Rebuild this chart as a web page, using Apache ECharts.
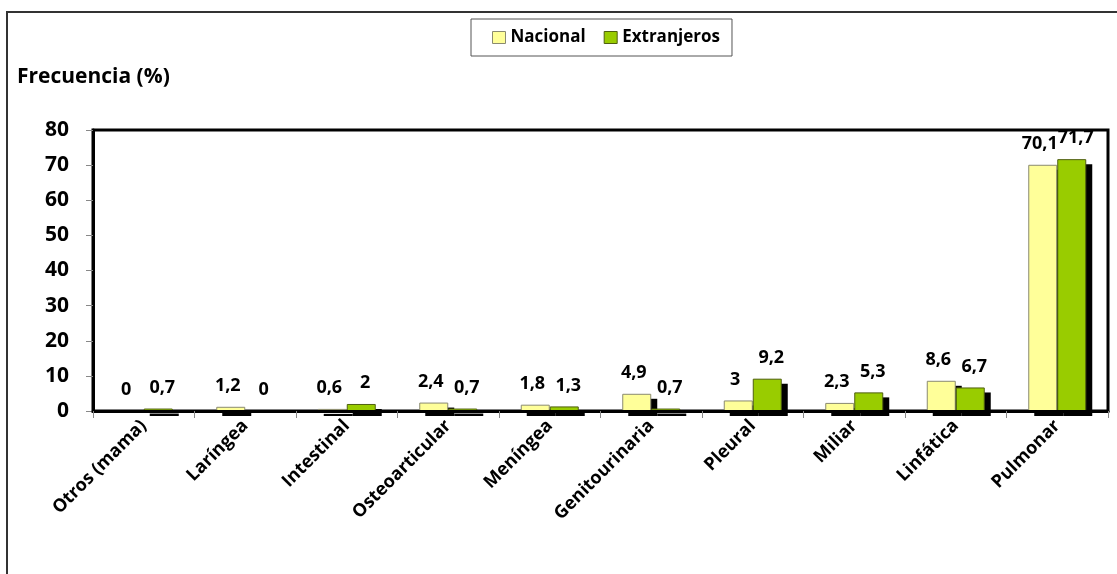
<!DOCTYPE html>
<html>
<head>
<meta charset="utf-8">
<script src="https://cdn.jsdelivr.net/npm/echarts@6/dist/echarts.min.js"></script>
<style>
  html, body { margin: 0; padding: 0; background: #fff; }
  #chart { width: 1117px; height: 574px; }
</style>
</head>
<body>
<div id="chart"></div>
<script>
// Localizaciones de la tuberculosis
const categories = ['Otros (mama)', 'Laríngea', 'Intestinal', 'Osteoarticular', 'Meníngea',
  'Genitourinaria', 'Pleural', 'Miliar', 'Linfática', 'Pulmonar'];
const nacional = [0, 1.2, 0.6, 2.4, 1.8, 4.9, 3, 2.3, 8.6, 70.1];
const extranjeros = [0.7, 0, 2, 0.7, 1.3, 0.7, 9.2, 5.3, 6.7, 71.7];
const yTicks = { min: 0, max: 80, interval: 10 };

const FONT = '"Open Sans", "Noto Sans", sans-serif';
const BAR_W = 29;
const SHADOW_DX = 6;
const SHADOW_DY = 5;

function barLabel(dx) {
  return {
    show: true,
    position: 'top',
    distance: 12,
    offset: [dx, 0],
    fontFamily: FONT,
    fontWeight: 'bold',
    fontSize: 18,
    color: '#000',
    formatter: p => String(p.value).replace('.', ',')
  };
}

function barSeries(name, data, color, border, labelDx) {
  return {
    name: name,
    type: 'bar',
    data: data,
    barWidth: BAR_W,
    barGap: '0%',
    z: 3,
    itemStyle: { color: color, borderColor: border, borderWidth: 1 },
    label: barLabel(labelDx),
    emphasis: { disabled: true }
  };
}

// Solid black drop shadow behind each bar, placed with the axis scales.
// side = -1 for the left bar of a pair, 0 for the right bar.
function shadowSeries(data, side) {
  return {
    type: 'custom',
    z: 2,
    silent: true,
    clip: false,
    data: data.map((v, i) => [i, v]),
    encode: { x: 0, y: 1 },
    renderItem: function (params, api) {
      const val = api.value(1);
      if (!val) return null;
      const base = api.coord([api.value(0), 0]);
      const top = api.coord([api.value(0), val]);
      const x = base[0] + side * BAR_W + SHADOW_DX;
      return {
        type: 'rect',
        shape: { x: x, y: top[1] + SHADOW_DY, width: BAR_W, height: base[1] - top[1] },
        style: { fill: '#000' }
      };
    }
  };
}

const chart = echarts.init(document.getElementById('chart'), null, { renderer: 'canvas' });
chart.setOption({
  animation: false,
  backgroundColor: '#fff',
  title: {
    text: 'Frecuencia (%)',
    left: 12,
    top: 62,
    textStyle: { fontFamily: FONT, fontWeight: 'bold', fontSize: 21, color: '#000' }
  },
  legend: {
    data: ['Nacional', 'Extranjeros'],
    left: 471,
    top: 19,
    padding: [10, 12, 10, 21],
    itemGap: 18,
    itemWidth: 13,
    itemHeight: 12,
    icon: 'rect',
    borderColor: '#555',
    borderWidth: 1,
    itemStyle: { borderWidth: 1 },
    textStyle: { fontFamily: FONT, fontWeight: 'bold', fontSize: 17, color: '#000', padding: [0, 0, 0, 0] }
  },
  graphic: [{
    type: 'rect',
    z: -10,
    silent: true,
    shape: { x: 7, y: 12, width: 1300, height: 800 },
    style: { fill: 'none', stroke: '#333', lineWidth: 2 }
  }],
  grid: {
    left: 93,
    right: 9,
    top: 130,
    bottom: 163,
    show: true,
    borderColor: '#000',
    borderWidth: 3,
    backgroundColor: 'transparent'
  },
  xAxis: {
    type: 'category',
    data: categories,
    z: 5,
    axisLine: { show: true, lineStyle: { color: '#000', width: 3 } },
    axisTick: { show: true, length: 7, lineStyle: { color: '#888', width: 1 } },
    axisLabel: {
      rotate: 45,
      margin: 12,
      interval: 0,
      fontFamily: FONT,
      fontWeight: 'bold',
      fontSize: 18,
      color: '#000'
    },
    splitLine: { show: false }
  },
  yAxis: {
    type: 'value',
    min: yTicks.min,
    max: yTicks.max,
    interval: yTicks.interval,
    axisLine: { show: true, lineStyle: { color: '#000', width: 3 } },
    axisTick: { show: true, length: 7, lineStyle: { color: '#888', width: 1 } },
    axisLabel: {
      margin: 24,
      fontFamily: FONT,
      fontWeight: 'bold',
      fontSize: 21,
      color: '#000'
    },
    splitLine: { show: false }
  },
  series: [
    shadowSeries(nacional, -1),
    shadowSeries(extranjeros, 0),
    barSeries('Nacional', nacional, '#FFFF99', '#8a8a70', -3),
    barSeries('Extranjeros', extranjeros, '#99CC00', '#4f5f10', 4)
  ]
});
</script>
</body>
</html>
